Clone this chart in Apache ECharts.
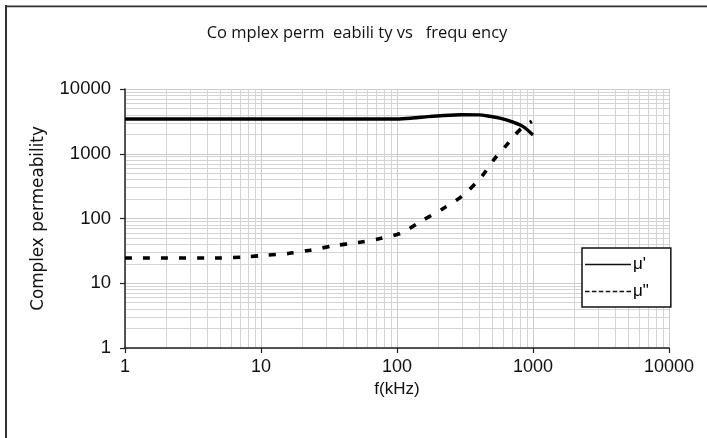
<!DOCTYPE html>
<html>
<head>
<meta charset="utf-8">
<script src="https://cdn.jsdelivr.net/npm/echarts@6/dist/echarts.min.js"></script>
<style>
html,body{margin:0;padding:0;background:#fff;}
#chart{width:707px;height:438px;}
</style>
</head>
<body>
<div id="chart"></div>
<script>
// Data
var muRealFreq = [1, 10, 100, 130, 170, 220, 300, 400, 480, 570, 680, 840, 1000];
var muRealVals = [3450, 3450, 3450, 3560, 3750, 3900, 4000, 3980, 3800, 3560, 3200, 2650, 1950];
var muImagFreq = [1, 5, 7.6, 10.7, 15.9, 23, 34, 52, 75, 108, 152, 213, 307, 415, 525, 632, 738, 850, 980];
var muImagVals = [24.6, 24.6, 25.5, 27, 28.8, 32.4, 37.8, 42.7, 49, 60, 92, 138, 229, 433, 850, 1320, 1960, 2630, 3160];
var decadeTicks = [1, 10, 100, 1000, 10000];
var seriesNames = ["\u03bc'", '\u03bc"'];
var titleText = 'Co mplex perm  eabili ty vs   frequ ency';
var xName = 'f(kHz)';
var yName = 'Complex permeability';

function pairs(xs, ys) { return xs.map(function (x, i) { return [x, ys[i]]; }); }

// minor gridlines at 2..9 x 10^k between decade ticks
var minorVals = [];
for (var k = 0; k < decadeTicks.length - 1; k++) {
  for (var m = 2; m <= 9; m++) minorVals.push(m * decadeTicks[k]);
}
var minorLines = [];
minorVals.forEach(function (v) { minorLines.push({ xAxis: v }); minorLines.push({ yAxis: v }); });

// legend icons: a thin solid bar and a thin dashed bar
var dashPath = 'path://';
for (var d = 0; d < 7; d++) dashPath += 'M' + (d * 7) + ',0h4.6v1h-4.6z';

var chart = echarts.init(document.getElementById('chart'), null, { renderer: 'canvas' });
var labelFmt = function (v) { return String(Math.round(v)); };
var option = {
  animation: false,
  backgroundColor: '#fff',
  title: {
    text: titleText, left: 352, top: 20, textAlign: 'center',
    textStyle: { fontFamily: 'Open Sans', fontSize: 16.5, fontWeight: 'normal', color: '#111' }
  },
  grid: { left: 125, right: 38, top: 89, bottom: 90, containLabel: false },
  legend: {
    orient: 'vertical', left: 582, top: 248, z: 20,
    padding: [8, 22, 7, 3], itemGap: 10, itemWidth: 46, itemHeight: 1.3, symbolKeepAspect: false,
    borderColor: '#111', borderWidth: 1.5, backgroundColor: '#fff',
    textStyle: { fontFamily: 'Liberation Sans', fontSize: 17, color: '#000', lineHeight: 17, padding: [0, 0, 0, -3] },
    itemStyle: { color: '#111' },
    data: [
      { name: seriesNames[0], icon: 'rect' },
      { name: seriesNames[1], icon: dashPath }
    ]
  },
  xAxis: {
    type: 'log', logBase: 10, min: 1, max: 10000,
    name: xName, nameLocation: 'middle', nameGap: 31,
    nameTextStyle: { fontFamily: 'Liberation Sans', fontSize: 17, color: '#111' },
    axisLine: { show: true, onZero: false, lineStyle: { color: '#222', width: 1.5 } },
    axisTick: { show: true, inside: false, length: 5, lineStyle: { color: '#222', width: 1.2 } },
    axisLabel: { formatter: labelFmt, margin: 10, fontFamily: 'Liberation Sans', fontSize: 18, color: '#111' },
    splitLine: { show: true, lineStyle: { color: '#cccccc', width: 1 } },
    minorTick: { show: false }, minorSplitLine: { show: false }
  },
  yAxis: {
    type: 'log', logBase: 10, min: 1, max: 10000,
    name: yName, nameLocation: 'middle', nameGap: 78, nameRotate: 90,
    nameTextStyle: { fontFamily: 'DejaVu Sans', fontSize: 16.8, color: '#111' },
    axisLine: { show: true, onZero: false, lineStyle: { color: '#222', width: 1.5 } },
    axisTick: { show: true, inside: false, length: 5, lineStyle: { color: '#222', width: 1.2 } },
    axisLabel: { formatter: labelFmt, margin: 14, fontFamily: 'Liberation Sans', fontSize: 18.5, color: '#111' },
    splitLine: { show: true, lineStyle: { color: '#cccccc', width: 1 } },
    minorTick: { show: false }, minorSplitLine: { show: false }
  },
  graphic: [
    { type: 'rect', shape: { x: 5, y: 5, width: 2, height: 433 }, style: { fill: '#333' }, z: 100 },
    { type: 'rect', shape: { x: 5, y: 5.5, width: 702, height: 1.8 }, style: { fill: '#333' }, z: 100 }
  ],
  series: [
    {
      name: 'minorgrid', type: 'line', data: [], silent: true, z: 0,
      markLine: {
        z: 0, silent: true, symbol: ['none', 'none'], animation: false,
        label: { show: false },
        lineStyle: { color: '#d4d4d4', width: 1, type: 'solid' },
        emphasis: { disabled: true },
        data: minorLines
      }
    },
    {
      name: seriesNames[0], type: 'line', data: pairs(muRealFreq, muRealVals),
      symbol: 'none', smooth: 0.3, z: 3,
      lineStyle: { color: '#000', width: 3.4, type: 'solid' }, itemStyle: { color: '#000' }
    },
    {
      name: seriesNames[1], type: 'line', data: pairs(muImagFreq, muImagVals),
      symbol: 'none', smooth: 0.3, z: 3,
      lineStyle: { color: '#000', width: 3.6, type: [7, 11] }, itemStyle: { color: '#000' }
    }
  ]
};
chart.setOption(option);
</script>
</body>
</html>
